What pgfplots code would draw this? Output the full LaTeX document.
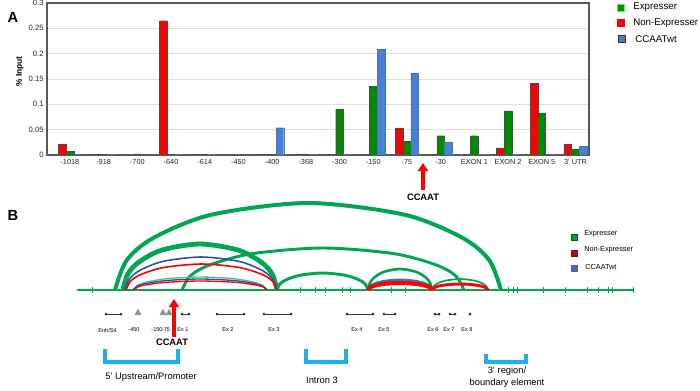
\documentclass[border=0pt]{standalone}
\usepackage{fontspec}
\setmainfont{Liberation Sans}
\usepackage{pgfplots}
\pgfplotsset{compat=1.18}
\usetikzlibrary{arrows.meta}
\definecolor{expgreen}{HTML}{008C00}
\definecolor{nonred}{HTML}{FF0000}
\definecolor{wtblue}{HTML}{4A7FD4}
\definecolor{arcgreen}{HTML}{00A651}
\definecolor{arcblue}{HTML}{3050A0}
\definecolor{brcyan}{HTML}{1EB0E8}
\newcommand{\fs}[1]{\fontsize{#1}{#1}\selectfont}

\begin{document}
\begin{tikzpicture}
\path[use as bounding box] (0pt,0pt) rectangle (525pt,292.5pt);

% ---------- panel B (and all loose text), pixel coordinates, y downwards
\begin{axis}[
  at={(0pt,0pt)}, anchor=south west, scale only axis,
  width=525pt, height=292.5pt,
  xmin=0, xmax=700, ymin=0, ymax=390, y dir=reverse,
  hide axis, clip=false
]
% baseline of the locus
\addplot[arcgreen, line width=0.8pt] coordinates {(77,290) (633,290)};
\addplot[only marks, mark=|, mark size=2pt, arcgreen, mark options={line width=0.5pt}]
  coordinates {(92,290) (300,290) (315,290) (325,290) (342,290) (350,290) (391,290)
  (405,290) (508,290) (513,290) (517,290) (543,290) (565,290) (587,290) (598,290)
  (608,290) (612,290) (633,290)};

% green interactions
\addplot[arcgreen, line width=3pt, smooth] coordinates {(115,290) (126.6,260.4) (153.6,237.8) (211.5,214.7) (308,203) (404.5,214.7) (462.4,237.8) (489.4,260.4) (501,290)};
\addplot[arcgreen, line width=3.6pt, smooth] coordinates {(123,290) (127.6,274.4) (138.4,262.4) (161.5,250.2) (200,244) (238.5,250.2) (261.6,262.4) (272.4,274.4) (277,290)};
\addplot[arcgreen, line width=2.2pt, smooth] coordinates {(182,290) (190.5,275.7) (210.2,264.8) (252.5,253.6) (323,248) (393.5,253.6) (435.8,264.8) (455.5,275.7) (464,290)};
\addplot[arcgreen, line width=2.2pt, smooth] coordinates {(277,290) (279.7,284.2) (286.1,279.8) (299.75,275.3) (322.5,273) (345.25,275.3) (358.9,279.8) (365.3,284.2) (368,290)};
\addplot[arcgreen!70, line width=1pt, smooth] coordinates {(133,290) (137,285.6) (146.4,282.2) (166.5,278.7) (200,277) (233.5,278.7) (253.6,282.2) (263,285.6) (267,290)};
\addplot[arcgreen, line width=2pt, smooth] coordinates {(368,290) (369.9,282.9) (374.4,277.4) (384,271.8) (400,269) (416,271.8) (425.6,277.4) (430.1,282.9) (432,290)};
\addplot[arcgreen, line width=1.3pt, smooth] coordinates {(432,290) (433.7,286.3) (437.6,283.4) (446,280.5) (460,279) (474,280.5) (482.4,283.4) (486.3,286.3) (488,290)};
% CCAATwt
\addplot[arcblue, line width=1.2pt, smooth] coordinates {(125,290) (129.6,278.8) (140.2,270.2) (163,261.4) (201,257) (239,261.4) (261.8,270.2) (272.4,278.8) (277,290)};
\addplot[arcblue, line width=1pt, smooth] coordinates {(133,290) (137,286.3) (146.4,283.4) (166.5,280.5) (200,279) (233.5,280.5) (253.6,283.4) (263,286.3) (267,290)};
\addplot[wtblue!85!black, line width=2.2pt, smooth] coordinates {(368,290) (369.9,286.6) (374.4,284) (384,281.3) (400,280) (416,281.3) (425.6,284) (430.1,286.6) (432,290)};
% Non-Expresser
\addplot[nonred, line width=1.2pt, smooth] coordinates {(126,290) (130.5,281.2) (141.1,274.4) (163.75,267.5) (201.5,264) (239.25,267.5) (261.9,274.4) (272.5,281.2) (277,290)};
\addplot[nonred, line width=1pt, smooth] coordinates {(134,290) (138,286.9) (147.3,284.6) (167.25,282.2) (200.5,281) (233.75,282.2) (253.7,284.6) (263,286.9) (267,290)};
\addplot[nonred, line width=3pt, smooth] coordinates {(368,290) (369.9,287.6) (374.4,285.8) (384,283.9) (400,283) (416,283.9) (425.6,285.8) (430.1,287.6) (432,290)};
\addplot[nonred, line width=2.2pt, smooth] coordinates {(432,290) (433.7,288) (437.6,286.4) (446,284.8) (460,284) (474,284.8) (482.4,286.4) (486.3,288) (488,290)};

% gene map
\pgfplotsset{gm/.style={black!80, line width=0.6pt, mark=*, mark size=0.7pt}}
\addplot[gm] coordinates {(106,314) (121,314)};
\addplot[gm] coordinates {(182,314) (189,314)};
\addplot[gm] coordinates {(217,314) (244,314)};
\addplot[gm] coordinates {(264,314) (291,314)};
\addplot[gm] coordinates {(347,314) (373,314)};
\addplot[gm] coordinates {(384,314) (395,314)};
\addplot[gm] coordinates {(435,314) (439,314)};
\addplot[gm] coordinates {(450,314) (455,314)};
\addplot[gm, only marks] coordinates {(470,314)};
\addplot[only marks, mark=triangle*, mark size=2.6pt, color=black!45]
  coordinates {(138,313) (163,313) (169,313)};
\begin{scope}[every node/.style={font=\fs{4.2}, inner sep=0pt}]
\node at (axis cs:108,330) {Enh/Sil.};
\node at (axis cs:134,330) {-450};
\node at (axis cs:157,330) {-150};
\node at (axis cs:166,330) {-75};
\node at (axis cs:183,330) {Ex 1};
\node at (axis cs:228,330) {Ex 2};
\node at (axis cs:274,330) {Ex 3};
\node at (axis cs:357,330) {Ex 4};
\node at (axis cs:384,330) {Ex 5};
\node at (axis cs:433,330) {Ex 6};
\node at (axis cs:449,330) {Ex 7};
\node at (axis cs:467,330) {Ex 8};
\end{scope}

% regions
\addplot[brcyan, line width=3pt] coordinates {(105,349) (105,362) (178,362) (178,349)};
\addplot[brcyan, line width=3pt] coordinates {(306,349) (306,362) (346,362) (346,349)};
\addplot[brcyan, line width=3pt] coordinates {(486,354) (486,362) (526,362) (526,354)};
\node[font=\fs{7}] at (axis cs:151,377) {5' Upstream/Promoter};
\node[font=\fs{7}] at (axis cs:322,380) {Intron 3};
\node[font=\fs{7}, align=center] at (axis cs:507,377) {3' region/\\[1.5pt]boundary element};

% CCAAT arrows
\addplot[nonred, line width=3pt, -{Triangle[width=7.5pt,length=6pt]}] coordinates {(423,190) (423,163)};
\node[font=\bfseries\fs{7}] at (axis cs:423,197) {CCAAT};
\addplot[nonred, line width=3pt, -{Triangle[width=7.5pt,length=6pt]}] coordinates {(174,337) (174,299)};
\node[font=\bfseries\fs{7}] at (axis cs:172,342) {CCAAT};

% panel letters
\node[font=\bfseries\fs{11}] at (axis cs:13,17) {A};
\node[font=\bfseries\fs{11}] at (axis cs:13,215) {B};

% legend A
\node[draw=green!70, fill=expgreen, minimum size=5.5pt, inner sep=0pt] at (axis cs:621,8) {};
\node[draw=none, fill=nonred, minimum size=5.5pt, inner sep=0pt] at (axis cs:621,23) {};
\node[draw=black!80, fill=wtblue, minimum size=5.5pt, inner sep=0pt] at (axis cs:622,39) {};
\node[anchor=west, font=\fs{7.3}, inner sep=0pt] at (axis cs:633,7) {Expresser};
\node[anchor=west, font=\fs{7.3}, inner sep=0pt] at (axis cs:633,23) {Non-Expresser};
\node[anchor=west, font=\fs{7.3}, inner sep=0pt] at (axis cs:635,39) {CCAATwt};

% legend B
\node[draw=green!40!black, fill=arcgreen!90!black, minimum size=4.5pt, inner sep=0pt] at (axis cs:574,237) {};
\node[draw=black!80, fill=red!80!black, minimum size=4.5pt, inner sep=0pt] at (axis cs:574,253) {};
\node[draw=black!60, fill=wtblue!80!blue, minimum size=4.5pt, inner sep=0pt] at (axis cs:574,268) {};
\node[anchor=west, font=\fs{5.5}, inner sep=0pt] at (axis cs:584,234) {Expresser};
\node[anchor=west, font=\fs{5.5}, inner sep=0pt] at (axis cs:584,250) {Non-Expresser};
\node[anchor=west, font=\fs{5.5}, inner sep=0pt] at (axis cs:585,267) {CCAATwt};
\end{axis}

% ---------- panel A: ChIP bar chart
\begin{axis}[
  at={(35.25pt,176.25pt)}, anchor=south west, scale only axis,
  width=406.5pt, height=114pt,
  xmin=-0.68, xmax=15.4, ymin=0, ymax=0.3,
  xtick={0,...,15},
  xticklabels={-1018,-918,-700,-640,-614,-450,-400,-368,-300,-150,-75,-30,EXON 1,EXON 2,EXON 5,3' UTR},
  ytick={0,0.05,0.1,0.15,0.2,0.25,0.3},
  yticklabels={0,0.05,0.1,0.15,0.2,0.25,0.3},
  x tick label style={font=\fs{5.5}, text=black!85},
  y tick label style={font=\fs{5.8}, text=black!85, xshift=1pt},
  major tick length=0pt,
  ymajorgrids, grid style={black!13, line width=0.5pt},
  axis line style={draw=black!65, line width=0.9pt},
  /pgf/number format/assume math mode=true,
  ylabel={\textbf{\% Input}},
  ylabel style={font=\fs{6.3}, at={(axis description cs:-0.05,0.55)}, anchor=center},
]
\addplot[ybar, bar width=0.228, bar shift=-0.228, fill=nonred, draw=black!70, line width=0.3pt]
  coordinates {(0,0.021) (1,0.001) (3,0.265) (4,0.001) (6,0.001) (7,0.001) (8,0.001)
  (9,0.001) (10,0.053) (11,0.001) (12,0.001) (13,0.014) (14,0.142) (15,0.021)};
\addplot[ybar, bar width=0.228, bar shift=0, fill=expgreen, draw=black!70, line width=0.3pt]
  coordinates {(0,0.007) (1,0.001) (2,0.002) (3,0.001) (4,0.001) (6,0.001) (7,0.001)
  (8,0.091) (9,0.136) (10,0.027) (11,0.038) (12,0.038) (13,0.087) (14,0.083) (15,0.012)};
\addplot[ybar, bar width=0.228, bar shift=0.228, fill=wtblue, draw=wtblue!90!black, line width=0.2pt]
  coordinates {(0,0.001) (1,0.001) (3,0.001) (4,0.001) (6,0.054) (7,0.001) (8,0.001)
  (9,0.209) (10,0.161) (11,0.026) (12,0.001) (13,0.001) (14,0.001) (15,0.017)};
\end{axis}
\end{tikzpicture}
\end{document}
